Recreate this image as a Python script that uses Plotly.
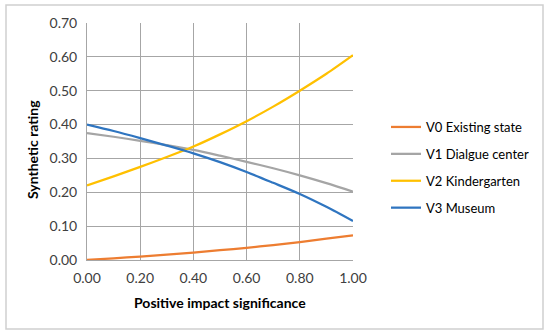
import plotly.graph_objects as go

x_vals = [0.0, 0.1, 0.2, 0.3, 0.4, 0.5, 0.6, 0.7, 0.8, 0.9, 1.0]
v0_existing = [0.000, 0.005, 0.010, 0.016, 0.022, 0.029, 0.036, 0.044, 0.053, 0.063, 0.073]
v1_dialogue = [0.375, 0.364, 0.352, 0.339, 0.325, 0.308, 0.290, 0.271, 0.250, 0.227, 0.202]
v2_kinder = [0.220, 0.247, 0.275, 0.304, 0.335, 0.371, 0.410, 0.453, 0.500, 0.550, 0.605]
v3_museum = [0.400, 0.381, 0.360, 0.338, 0.315, 0.289, 0.260, 0.228, 0.195, 0.157, 0.115]

names = ["V0 Existing state", "V1 Dialgue center", "V2 Kindergarten", "V3 Museum"]
series = [v0_existing, v1_dialogue, v2_kinder, v3_museum]
colors = ["#ED7D31", "#A5A5A5", "#FFC000", "#2F75C0"]

tick_vals = [0.0, 0.2, 0.4, 0.6, 0.8, 1.0]
y_ticks = [0.0, 0.1, 0.2, 0.3, 0.4, 0.5, 0.6, 0.7]

x_title = "Positive impact significance"
y_title = "Synthetic rating"

FONT = "Lato, 'Open Sans', sans-serif"

fig = go.Figure()
for i, (nm, ys, c) in enumerate(zip(names, series, colors)):
    fig.add_trace(go.Scatter(x=x_vals, y=ys, name=nm, mode="lines",
                             line=dict(color=c, width=2.25, shape="spline", smoothing=0.8),
                             legendgroup=f"g{i}"))

L, R, T, B = 87, 197, 23, 76
W, H = 550, 336
pw = W - L - R
ph = H - T - B

def px_x(px):
    return (px - L) / pw

def px_y(py):
    return (H - B - py) / ph

fig.add_shape(type="rect", xref="paper", yref="paper",
              x0=px_x(6), x1=px_x(543), y0=px_y(329), y1=px_y(5),
              line=dict(color="#D0D0D0", width=1.5), layer="below")

fig.add_annotation(text=f"<b>{x_title}</b>", xref="paper", yref="paper",
                   x=px_x(220), y=px_y(302), xanchor="center", yanchor="middle",
                   showarrow=False, font=dict(family=FONT, size=14, color="#000000"))
fig.add_annotation(text=f"<b>{y_title}</b>", xref="paper", yref="paper",
                   x=px_x(32), y=px_y(150), xanchor="center", yanchor="middle",
                   textangle=-90, showarrow=False,
                   font=dict(family=FONT, size=14, color="#000000"))

fig.update_layout(
    width=W, height=H,
    margin=dict(l=L, r=R, t=T, b=B),
    paper_bgcolor="white", plot_bgcolor="white",
    font=dict(family=FONT, size=14, color="#404040"),
    showlegend=True,
    legend=dict(x=px_x(386), y=px_y(112), xanchor="left", yanchor="top",
                font=dict(family=FONT, size=13, color="#000000"),
                traceorder="grouped", tracegroupgap=7,
                itemwidth=30, bgcolor="rgba(0,0,0,0)"),
    xaxis=dict(range=[0, 1], tickvals=tick_vals,
               ticktext=[f"{v:.2f}" for v in tick_vals],
               showgrid=True, gridcolor="#A6A6A6", gridwidth=1,
               showline=True, linecolor="#A6A6A6", linewidth=1,
               zeroline=False, ticks="", ticklabelstandoff=5,
               tickfont=dict(family=FONT, size=14, color="#404040")),
    yaxis=dict(range=[0, 0.7], tickvals=y_ticks,
               ticktext=[f"{v:.2f}" for v in y_ticks],
               showgrid=True, gridcolor="#A6A6A6", gridwidth=1,
               showline=True, linecolor="#A6A6A6", linewidth=1,
               zeroline=False, ticks="", ticklabelstandoff=6,
               tickfont=dict(family=FONT, size=14, color="#404040")),
)

fig.write_html("out.html", config={"displayModeBar": False},
               post_script="document.body.style.margin='0';document.body.style.overflow='hidden';")
